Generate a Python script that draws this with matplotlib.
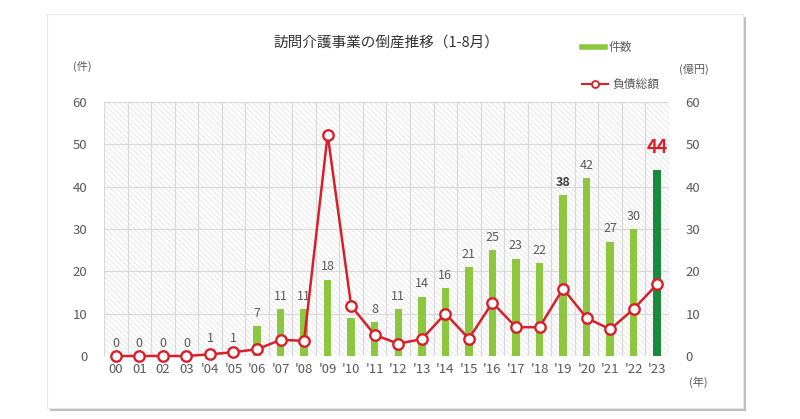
import matplotlib
matplotlib.use("Agg")
import matplotlib.pyplot as plt
from matplotlib.patches import Rectangle
from matplotlib.lines import Line2D

plt.rcParams['font.family'] = ['Noto Sans CJK JP', 'DejaVu Sans']
plt.rcParams['hatch.linewidth'] = 0.6

years = ["00", "01", "02", "03", "'04", "'05", "'06", "'07", "'08", "'09", "'10", "'11",
         "'12", "'13", "'14", "'15", "'16", "'17", "'18", "'19", "'20", "'21", "'22", "'23"]
counts = [0, 0, 0, 0, 1, 1, 7, 11, 11, 18, 9, 8, 11, 14, 16, 21, 25, 23, 22, 38, 42, 27, 30, 44]
debt = [0, 0, 0, 0, 0.4, 0.9, 1.6, 3.8, 3.6, 52.3, 11.8, 5.0, 2.9, 4.0, 10.0, 4.1, 12.6,
        6.8, 6.8, 15.9, 9.0, 6.3, 11.1, 17.0]
yticks = [0, 10, 20, 30, 40, 50, 60]

title = "訪問介護事業の倒産推移（1-8月）"
GRAY = "#595959"
LGREEN = "#8DC63F"
DGREEN = "#1A8A3C"
RED = "#D7202B"

fig = plt.figure(figsize=(8, 4.19), dpi=100)

# frame with shadow
fig.patches.append(Rectangle((50 / 800, 1 - 411 / 419), 696 / 800, 394 / 419,
                             transform=fig.transFigure, facecolor="#bdbdbd",
                             edgecolor="none", zorder=0))
fig.patches.append(Rectangle((47 / 800, 1 - 408 / 419), 696 / 800, 394 / 419,
                             transform=fig.transFigure, facecolor="white",
                             edgecolor="#e8e8e8", linewidth=0.8, zorder=0.5))

ax = fig.add_axes([104 / 800, 1 - 356 / 419, 565 / 800, 254 / 419])
n = len(years)
x = list(range(n))
ax.set_xlim(-0.5, n - 0.5)
ax.set_ylim(0, 60)

# hatched background
ax.add_patch(Rectangle((-0.5, 0), n, 60, facecolor="white", edgecolor="#e3e3e3",
                       hatch="\\\\\\\\\\\\", linewidth=0, zorder=0))
for i in range(n + 1):
    ax.axvline(i - 0.5, color="#d9d9d9", lw=0.9, zorder=0.5)
for t in yticks[1:]:
    ax.axhline(t, color="#d9d9d9", lw=0.9, zorder=0.5)

colors = [LGREEN] * (n - 1) + [DGREEN]
ax.bar(x, counts, width=0.32, color=colors, zorder=2)

for i, c in enumerate(counts):
    if i == n - 1:
        ax.text(i, c + 3.0, str(c), ha="center", va="bottom", color=RED,
                fontsize=13, fontweight="bold", zorder=5)
    else:
        ax.text(i, c + 1.5, str(c), ha="center", va="bottom", color="#404040" if i == 19 else GRAY,
                fontsize=9, fontweight="bold" if i == 19 else "normal", zorder=2.5)

ax2 = ax.twinx()
ax2.set_ylim(0, 60)
ax2.plot(x, debt, color=RED, lw=1.8, marker="o", markersize=7.5, markerfacecolor="white",
         markeredgecolor=RED, markeredgewidth=1.7, zorder=4, clip_on=False)

for a in (ax, ax2):
    for s in a.spines.values():
        s.set_visible(False)
    a.set_yticks(yticks)
    a.tick_params(length=0, labelsize=9.5, labelcolor=GRAY)
ax.set_xticks(x)
ax.set_xticklabels(years)
ax.tick_params(axis="x", pad=5)
ax.tick_params(axis="y", pad=12)
ax2.tick_params(axis="y", pad=12)
ax.set_zorder(1)
ax2.set_zorder(2)
ax2.patch.set_visible(False)

fig.text(386 / 800, 1 - 43 / 419, title, ha="center", va="center", fontsize=10.5, color="#333333")
fig.text(82 / 800, 1 - 66 / 419, "(件)", ha="center", va="center", fontsize=8, color=GRAY)
fig.text(694 / 800, 1 - 69 / 419, "(億円)", ha="center", va="center", fontsize=8, color=GRAY)
fig.text(698 / 800, 1 - 382 / 419, "(年)", ha="center", va="center", fontsize=8, color=GRAY)

# legend
fig.add_artist(Line2D([582 / 800, 605 / 800], [1 - 47 / 419, 1 - 47 / 419],
                      transform=fig.transFigure, color=LGREEN, lw=4))
fig.text(609 / 800, 1 - 47 / 419, "件数", ha="left", va="center", fontsize=8.5, color=GRAY)
fig.add_artist(Line2D([582 / 800, 608 / 800], [1 - 84 / 419, 1 - 84 / 419],
                      transform=fig.transFigure, color=RED, lw=1.5))
fig.add_artist(Line2D([595 / 800], [1 - 84 / 419], transform=fig.transFigure, color=RED,
                      marker="o", markersize=5, markerfacecolor="white", markeredgewidth=1.3))
fig.text(612 / 800, 1 - 84 / 419, "負債総額", ha="left", va="center", fontsize=8.5, color=GRAY)

fig.savefig("out.png", dpi=100)
